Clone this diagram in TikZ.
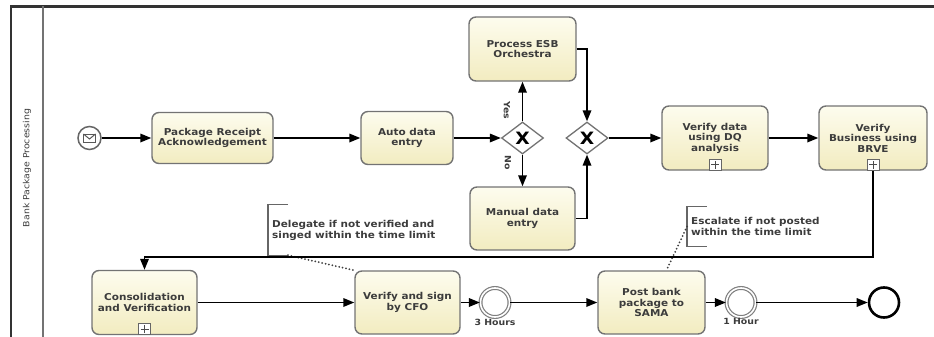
\documentclass[tikz,border=0pt]{standalone}
\usepackage{fontspec}
\usetikzlibrary{shapes.geometric,arrows.meta,positioning}
\newfontfamily\bpmnfont{DejaVu Sans}[FakeStretch=1.1]
\definecolor{taskhi}{RGB}{253,252,238}
\definecolor{tasklo}{RGB}{242,236,192}
\definecolor{inkgray}{RGB}{60,60,60}
\tikzset{
  task/.style 2 args={draw=black!55, line width=1.4pt, rounded corners=7pt,
    top color=taskhi, bottom color=tasklo, align=center, text=inkgray,
    inner sep=1pt, minimum width=#1pt, minimum height=#2pt,
    font=\bpmnfont\bfseries\fontsize{9.5}{10.5}\selectfont},
  gate/.style={diamond, draw=black!55, line width=1.3pt, fill=white,
    minimum width=42pt, minimum height=32pt, inner sep=0pt,
    font=\bpmnfont\bfseries\fontsize{17}{17}\selectfont},
  mailstart/.style={circle, draw=black!60, line width=1.5pt, fill=white,
    minimum size=23pt, inner sep=0pt,
    path picture={
      \draw[black!65, line width=1pt]
        ([shift={(-6pt,-4pt)}]path picture bounding box.center) rectangle
        ([shift={(6pt,4pt)}]path picture bounding box.center);
      \draw[black!65, line width=1pt]
        ([shift={(-6pt,4pt)}]path picture bounding box.center) --
        ([shift={(0pt,-1pt)}]path picture bounding box.center) --
        ([shift={(6pt,4pt)}]path picture bounding box.center);}},
  timer/.style={circle, draw=black!50, line width=1.2pt, double=white,
    double distance=1.6pt, fill=white, minimum size=29pt, inner sep=0pt},
  stopevent/.style={circle, draw=black, line width=2.6pt, fill=white,
    minimum size=30pt, inner sep=0pt},
  plusbox/.style={draw=black!60, line width=1pt, fill=white,
    minimum width=12pt, minimum height=11pt, inner sep=0pt, anchor=south,
    path picture={
      \draw[black!70, line width=1pt]
        ([xshift=-4pt]path picture bounding box.center) --
        ([xshift=4pt]path picture bounding box.center);
      \draw[black!70, line width=1pt]
        ([yshift=-4pt]path picture bounding box.center) --
        ([yshift=4pt]path picture bounding box.center);}},
  note/.style={anchor=west, align=left, text=inkgray, inner xsep=4pt,
    inner ysep=0pt, font=\bpmnfont\bfseries\fontsize{9.5}{11}\selectfont},
  bracket/.style={draw=black!60, line width=1.3pt},
  assoc/.style={draw=black!75, line width=2pt, line cap=round,
    dash pattern=on 0pt off 3.5pt},
  evlabel/.style={text=inkgray, inner sep=1pt,
    font=\bpmnfont\bfseries\fontsize{8.5}{9}\selectfont},
  flow/.style={draw=black, line width=1.7pt,
    -{Triangle[length=11pt,width=8.5pt]}}
}
\begin{document}
\begin{tikzpicture}[x=1pt,y=-1pt]
  \useasboundingbox (0,0) rectangle (934,337);
  \draw[black!80, line width=2.2pt] (11,337) -- (11,6.5) -- (934,6.5);
  \draw[black!55, line width=1.6pt] (43,6.5) -- (43,337);
  \node[rotate=90, text=inkgray, font=\bpmnfont\fontsize{8.5}{9}\selectfont]
    (lane) at (27,168) {Bank Package Processing};
  \path
    (89.5,138) node[mailstart] (start){}
    (212.5,138) node[task={121}{51}] (pra){Package Receipt\\Acknowledgement}
    (407,138) node[task={92}{53}] (auto){Auto data\\entry}
    (522.5,138) node[gate] (g1){X}
    (522.5,49) node[task={107}{64}] (esb){Process ESB\\Orchestra}
    (522.5,218.5) node[task={105}{63}] (manual){Manual data\\entry}
    (587,138) node[gate] (g2){X}
    (715,138) node[task={106}{64}] (dq){Verify data\\using DQ\\analysis}
    (873,138) node[task={108}{64}] (brve){Verify\\Business using\\BRVE}
    (144.5,302.5) node[task={105}{64}] (consol){Consolidation\\and Verification}
    (407.5,302.5) node[task={105}{63}] (cfo){Verify and sign\\by CFO}
    (495,302.5) node[timer] (t1){}
    (651.5,302.5) node[task={107}{63}] (post){Post bank\\package to\\SAMA}
    (741,302.5) node[timer] (t2){}
    (884,302.5) node[stopevent] (stop){};
  \path
    (dq.south) node[plusbox] (dqplus){}
    (brve.south) node[plusbox] (brveplus){}
    (consol.south) node[plusbox] (consolplus){};
  \coordinate (back) at (500,257);
  \node[evlabel, rotate=-90] (yes) at (507,110) {Yes};
  \node[evlabel, rotate=-90] (no) at (508,163) {No};
  \node[evlabel, below=0pt of t1] (t1label) {3 Hours};
  \node[evlabel, below=0pt of t2] (t2label) {1 Hour};
  \node[note, minimum height=50pt] (delegate) at (268,230)
    {Delegate if not verified and\\singed within the time limit};
  \node[note, minimum height=39pt] (escalate) at (687,226.5)
    {Escalate if not posted\\within the time limit};
  \draw[bracket] ([xshift=20pt]delegate.north west) -- (delegate.north west)
    -- (delegate.south west) -- ([xshift=20pt]delegate.south west);
  \draw[bracket] ([xshift=20pt]escalate.north west) -- (escalate.north west)
    -- (escalate.south west) -- ([xshift=20pt]escalate.south west);
  \draw[assoc] ([xshift=20pt]delegate.south west) -- (cfo.north west);
  \draw[assoc] (escalate.west) -- ([xshift=15pt]post.north);
  \begin{scope}[flow]
    \draw (start) to (pra);
    \draw (pra) to (auto);
    \draw (auto) to (g1);
    \draw (g1) to (esb);
    \draw (g1) to (manual);
    \draw (esb) -| (g2);
    \draw (manual) -| (g2);
    \draw (g2) to (dq);
    \draw (dq) to (brve);
    \draw (brve) |- (back) -| (consol);
    \draw (consol) to (cfo);
    \draw (cfo) to (t1);
    \draw (t1) to (post);
    \draw (post) to (t2);
    \draw (t2) to (stop);
  \end{scope}
\end{tikzpicture}
\end{document}
